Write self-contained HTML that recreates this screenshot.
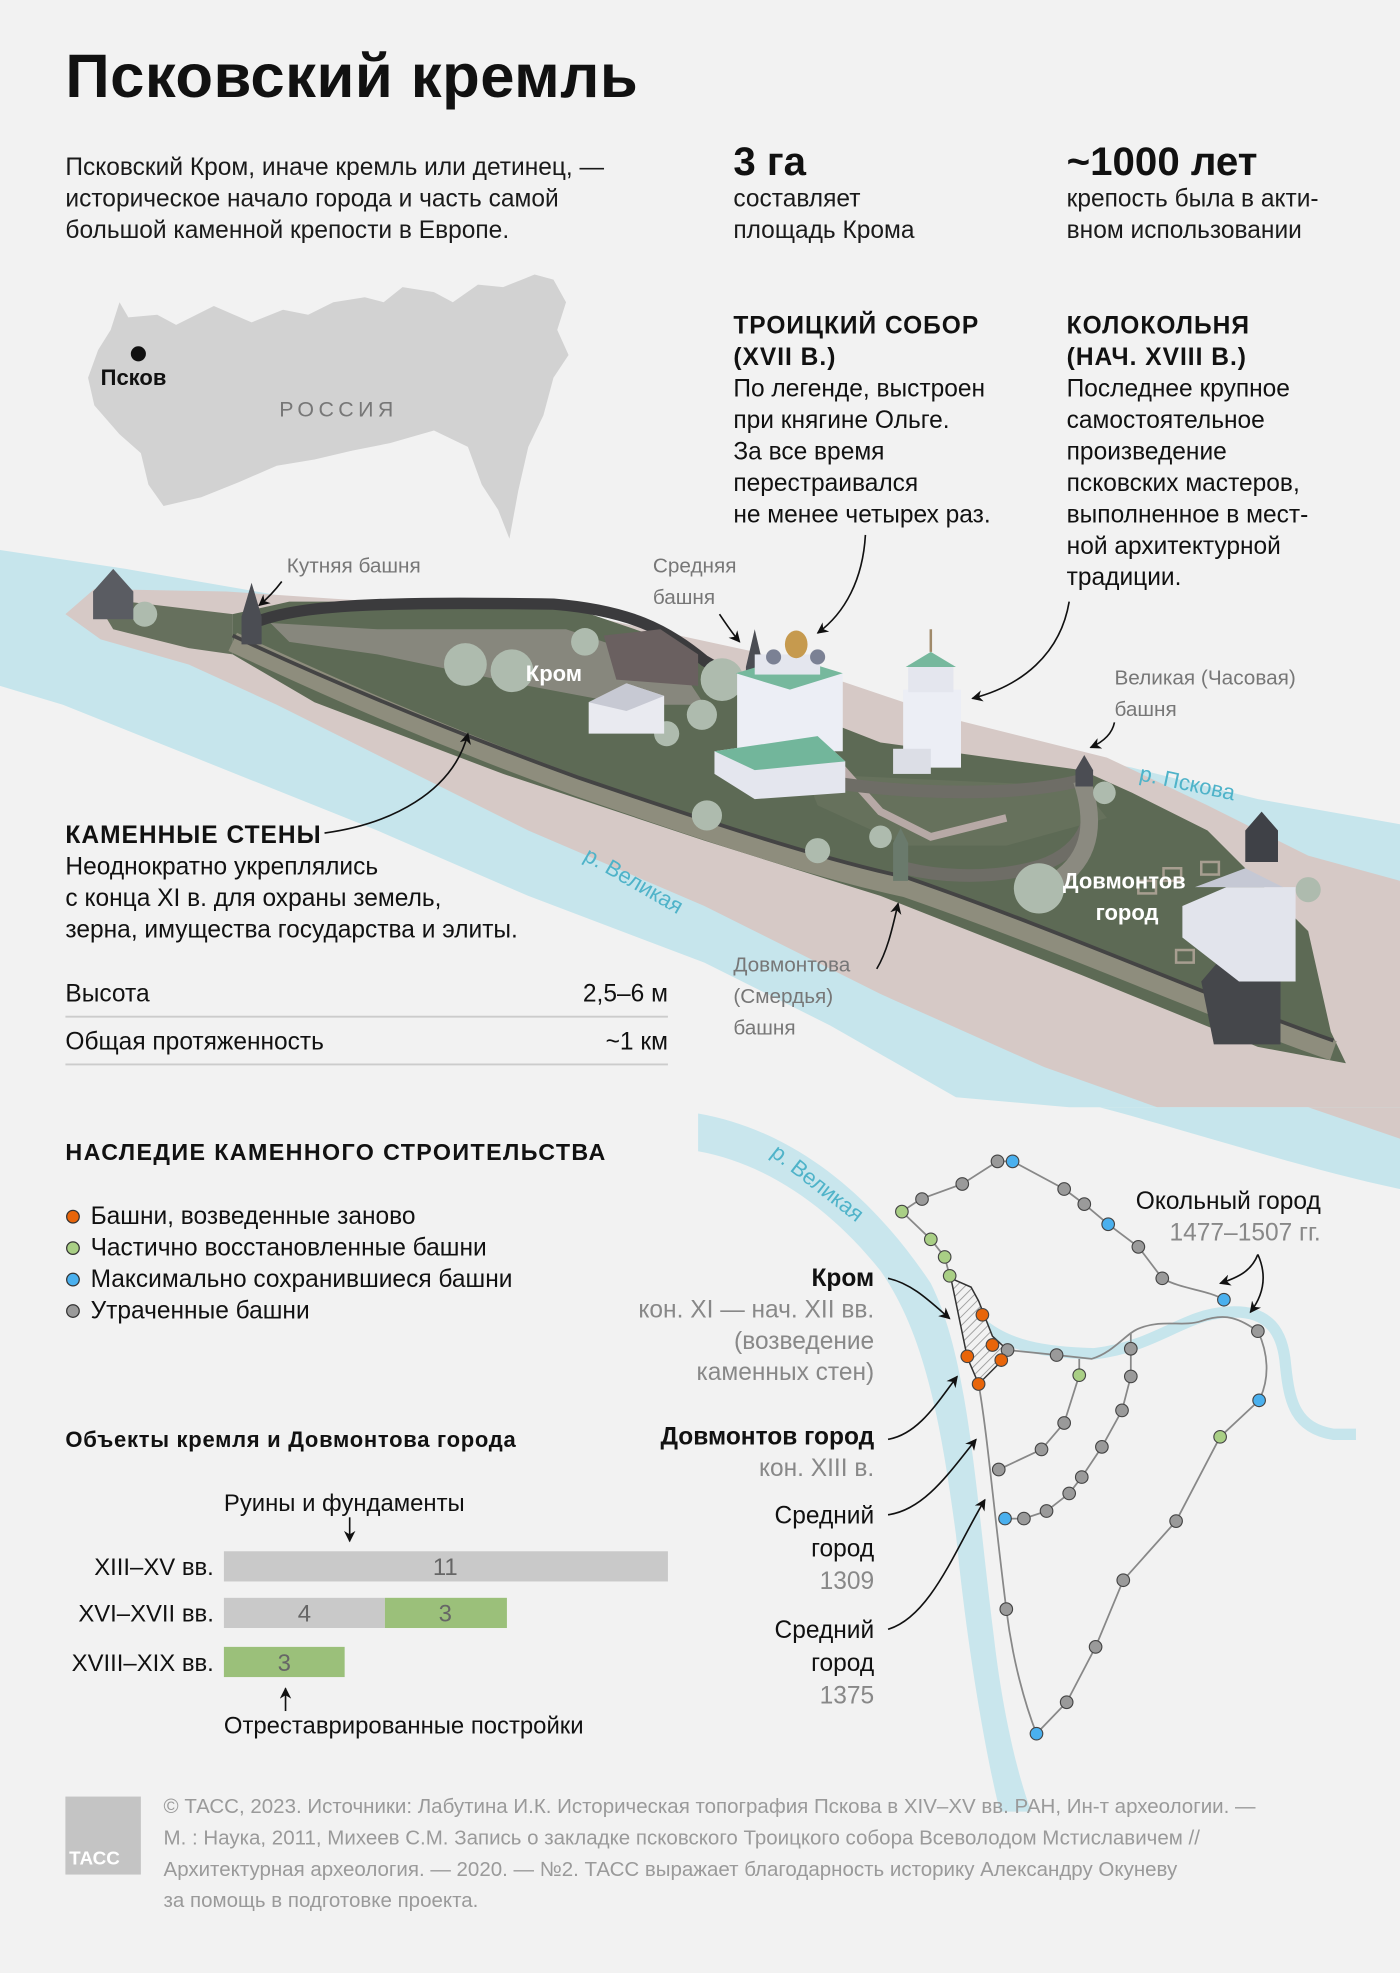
<!DOCTYPE html>
<html><head><meta charset="utf-8"><style>
html,body{margin:0;padding:0;background:#f2f2f2;}
svg{display:block;}
text{font-family:"Liberation Sans","DejaVu Sans",sans-serif;}
.b{font-weight:bold;}
</style></head><body>
<svg width="1400" height="1973" viewBox="0 0 1113 1568" xmlns="http://www.w3.org/2000/svg">
<defs>
<marker id="ah" viewBox="0 0 10 10" refX="9" refY="5" markerWidth="7" markerHeight="7" orient="auto-start-reverse"><path d="M0,0 L10,5 L0,10 L3,5 z" fill="#111"/></marker>
<pattern id="hatch" width="5" height="5" patternUnits="userSpaceOnUse" patternTransform="rotate(45)"><rect width="5" height="5" fill="#f2f2f2"/><line x1="0" y1="0" x2="0" y2="5" stroke="#999" stroke-width="1.4"/></pattern>
</defs>
<rect width="1113" height="1568" fill="#f2f2f2"/>

<!-- Title -->
<text x="52" y="77" font-size="49" class="b" fill="#111" textLength="455">Псковский кремль</text>
<g font-size="19.5" fill="#1a1a1a">
<text x="52" y="139">Псковский Кром, иначе кремль или детинец, —</text>
<text x="52" y="164">историческое начало города и часть самой</text>
<text x="52" y="189">большой каменной крепости в Европе.</text>
<text x="583" y="164">составляет</text>
<text x="583" y="189">площадь Крома</text>
<text x="848" y="164">крепость была в акти-</text>
<text x="848" y="189">вном использовании</text>
</g>
<text x="583" y="139" font-size="32" class="b" fill="#111">3 га</text>
<text x="848" y="139" font-size="32" class="b" fill="#111">~1000 лет</text>

<!-- Russia map -->
<path d="M95,240 L102,252 L125,250 L140,258 L170,243 L200,256 L225,246 L245,250 L265,240 L290,236 L305,240 L320,228 L345,232 L360,240 L380,226 L400,228 L415,222 L425,218 L440,222 L450,240 L443,262 L452,282 L440,300 L432,330 L420,355 L412,390 L405,428 L396,405 L383,385 L372,355 L345,342 L310,352 L280,358 L250,365 L220,370 L190,383 L160,395 L130,402 L118,385 L112,360 L95,345 L75,322 L70,300 L78,278 L88,262 Z" fill="#d2d2d2"/>
<circle cx="110" cy="281" r="6" fill="#111"/>
<text x="80" y="306" font-size="17.5" class="b" fill="#111">Псков</text>
<text x="222" y="331" font-size="17" fill="#777" letter-spacing="3.5">РОССИЯ</text>

<!-- Trinity / belfry text -->
<g font-size="19.5" fill="#111">
<text x="583" y="265" class="b" letter-spacing="0.8">ТРОИЦКИЙ СОБОР</text>
<text x="583" y="290" class="b" letter-spacing="0.8">(XVII В.)</text>
<text x="583" y="315">По легенде, выстроен</text>
<text x="583" y="340">при княгине Ольге.</text>
<text x="583" y="365">За все время</text>
<text x="583" y="390">перестраивался</text>
<text x="583" y="415">не менее четырех раз.</text>
<text x="848" y="265" class="b" letter-spacing="0.8">КОЛОКОЛЬНЯ</text>
<text x="848" y="290" class="b" letter-spacing="0.8">(НАЧ. XVIII В.)</text>
<text x="848" y="315">Последнее крупное</text>
<text x="848" y="340">самостоятельное</text>
<text x="848" y="365">произведение</text>
<text x="848" y="390">псковских мастеров,</text>
<text x="848" y="415">выполненное в мест-</text>
<text x="848" y="440">ной архитектурной</text>
<text x="848" y="465">традиции.</text>
</g>

<!-- Aerial: rivers -->
<path d="M0,437 L100,452 L250,478 L450,505 L600,540 L800,590 L900,610 L1000,635 L1113,655 L1113,880 L850,880 L760,872 L660,815 L560,765 L420,712 L300,660 L150,600 L50,560 L0,545 Z" fill="#c6e5ec"/>
<!-- land -->
<path d="M52,488 L75,468 L180,470 L300,478 L480,492 L600,518 L760,572 L880,602 L960,640 L1040,680 L1113,700 L1113,880 L920,880 L830,848 L700,790 L560,720 L420,660 L300,600 L220,560 L150,528 L80,508 Z" fill="#d6c9c6"/>
<!-- fortress green -->
<path d="M185,488 L230,478 L440,478 L540,512 L585,545 L700,590 L860,612 L900,630 L960,660 L1000,700 L1040,740 L1058,820 L1070,845 L1000,832 L860,775 L700,712 L560,668 L400,615 L250,558 L185,520 Z" fill="#5d6a55"/>
<path d="M75,475 L185,488 L185,520 L150,515 L90,500 Z" fill="#66705d"/>
<!-- courtyard -->
<path d="M215,495 L300,500 L450,500 L540,530 L560,560 L500,560 L420,545 L300,520 L230,510 Z" fill="#9a948f" opacity="0.7"/>
<path d="M640,615 L860,625 L880,650 L800,672 L720,672 L650,640 Z" fill="#66715c"/>
<path d="M660,600 L700,645 L740,665 L800,650" stroke="#b7a9a6" stroke-width="6" fill="none"/>
<!-- walls -->
<path d="M195,498 C230,480 300,478 440,480 C500,485 530,500 560,525 L600,548" stroke="#3b3b3d" stroke-width="9" fill="none"/>
<path d="M185,510 C260,545 350,585 460,625 C560,660 650,690 720,705 C850,750 960,800 1060,835" stroke="#8e8d7d" stroke-width="16" fill="none"/>
<path d="M185,505 C260,540 350,578 460,618 C560,652 650,682 720,697 C850,742 960,792 1060,827" stroke="#444" stroke-width="3" fill="none"/>
<path d="M640,618 C700,630 800,635 860,620 C875,650 860,680 820,690 C780,700 740,695 720,690" stroke="#6e6d66" stroke-width="10" fill="none"/>
<path d="M860,620 C870,650 870,680 840,700" stroke="#8b8a80" stroke-width="14" fill="none"/>
<!-- trees -->
<g fill="#aebbae">
<circle cx="370" cy="528" r="17"/><circle cx="407" cy="533" r="17"/><circle cx="115" cy="488" r="10"/>
<circle cx="574" cy="540" r="17"/><circle cx="558" cy="568" r="12"/><circle cx="530" cy="583" r="10"/>
<circle cx="465" cy="510" r="11"/><circle cx="562" cy="648" r="12"/><circle cx="826" cy="706" r="20"/>
<circle cx="1040" cy="707" r="10"/><circle cx="878" cy="630" r="9"/><circle cx="700" cy="665" r="9"/><circle cx="650" cy="676" r="10"/>
</g>
<!-- towers -->
<path d="M74,470 L90,452 L106,470 L106,492 L74,492 Z" fill="#5a5c62"/>
<path d="M192,490 L200,463 L208,490 L208,512 L192,512 Z" fill="#4b4d53"/>
<path d="M593,530 L600,500 L607,530 L607,548 L593,548 Z" fill="#4b4d53"/>
<path d="M855,612 L862,600 L869,612 L869,625 L855,625 Z" fill="#4b4d53"/>
<path d="M710,670 L716,658 L722,670 L722,700 L710,700 Z" fill="#6a7a6c"/>
<path d="M990,660 L1003,645 L1016,660 L1016,685 L990,685 Z" fill="#3f4147"/>
<path d="M955,780 L985,745 L1018,780 L1018,830 L965,830 Z" fill="#45474b"/>
<!-- buildings -->
<path d="M480,505 L525,500 L555,520 L555,545 L490,540 Z" fill="#6a6060"/>
<path d="M468,558 L498,543 L528,553 L528,583 L468,583 Z" fill="#e9eaf0"/>
<path d="M468,558 L498,543 L528,553 L498,565 Z" fill="#c7c9d3"/>
<rect x="586" y="535" width="84" height="62" fill="#eceef5"/>
<path d="M568,597 L650,585 L672,605 L672,630 L600,635 L568,615 Z" fill="#e4e6ee"/>
<path d="M568,597 L650,585 L672,605 L600,612 Z" fill="#72b69b"/>
<path d="M585,535 L628,522 L670,535 L628,548 Z" fill="#76b89d"/>
<rect x="600" y="520" width="52" height="16" fill="#e4e6ee"/>
<ellipse cx="633" cy="512" rx="9" ry="11" fill="#c69a4e"/>
<circle cx="615" cy="522" r="6" fill="#7b8194"/><circle cx="650" cy="522" r="6" fill="#7b8194"/>
<rect x="718" y="548" width="46" height="62" fill="#eceef5"/>
<rect x="722" y="528" width="36" height="22" fill="#e4e6ee"/>
<path d="M720,530 L740,518 L760,530 Z" fill="#76b89d"/>
<line x1="740" y1="500" x2="740" y2="518" stroke="#a08a6a" stroke-width="2"/>
<rect x="710" y="595" width="30" height="20" fill="#dcdee6"/>
<path d="M940,720 L975,705 L1030,705 L1030,780 L985,780 L940,745 Z" fill="#e2e4ec"/>
<path d="M950,705 L990,690 L1020,705 Z" fill="#c5c8d4"/>
<g fill="none" stroke="#a79e90" stroke-width="2">
<rect x="925" y="690" width="14" height="10"/><rect x="955" y="685" width="14" height="10"/><rect x="935" y="755" width="14" height="10"/><rect x="905" y="700" width="14" height="10"/>
</g>

<!-- aerial labels -->
<g font-size="16.5" fill="#777">
<text x="228" y="455">Кутняя башня</text>
<text x="519" y="455">Средняя</text>
<text x="519" y="480">башня</text>
<text x="886" y="544">Великая (Часовая)</text>
<text x="886" y="569">башня</text>
<text x="583" y="772">Довмонтова</text>
<text x="583" y="797">(Смердья)</text>
<text x="583" y="822">башня</text>
</g>
<text x="418" y="541" font-size="17.5" class="b" fill="#fff">Кром</text>
<text x="845" y="706" font-size="17.5" class="b" fill="#fff">Довмонтов</text>
<text x="871" y="731" font-size="17.5" class="b" fill="#fff">город</text>
<text x="905" y="620" font-size="17.5" fill="#4fb3c9" transform="rotate(12 905 620)">р. Пскова</text>
<text x="463" y="683" font-size="17.5" fill="#4fb3c9" transform="rotate(30 463 683)">р. Великая</text>

<!-- aerial arrows -->
<g fill="none" stroke="#111" stroke-width="1.3" marker-end="url(#ah)">
<path d="M224,462 C218,470 212,476 206,481"/>
<path d="M572,488 C578,497 582,503 588,510"/>
<path d="M688,425 C686,460 672,487 650,503"/>
<path d="M850,478 C843,520 812,545 773,555"/>
<path d="M886,574 C884,584 876,590 867,594"/>
<path d="M697,770 C706,755 710,735 714,718"/>
<path d="M258,662 C310,655 360,630 372,583"/>
</g>

<!-- stone walls text -->
<g font-size="19.5" fill="#111">
<text x="52" y="670" class="b" letter-spacing="0.8">КАМЕННЫЕ СТЕНЫ</text>
<text x="52" y="695">Неоднократно укреплялись</text>
<text x="52" y="720">с конца XI в. для охраны земель,</text>
<text x="52" y="745">зерна, имущества государства и элиты.</text>
<text x="52" y="796">Высота</text>
<text x="531" y="796" text-anchor="end">2,5–6 м</text>
<text x="52" y="834">Общая протяженность</text>
<text x="531" y="834" text-anchor="end">~1 км</text>
</g>
<line x1="52" y1="808" x2="531" y2="808" stroke="#ccc" stroke-width="1.5"/>
<line x1="52" y1="846" x2="531" y2="846" stroke="#ccc" stroke-width="1.5"/>

<!-- Legacy -->
<text x="52" y="922" font-size="18.5" class="b" fill="#111" letter-spacing="1.1">НАСЛЕДИЕ КАМЕННОГО СТРОИТЕЛЬСТВА</text>
<g stroke="#333" stroke-width="1">
<circle cx="58" cy="967" r="5" fill="#e8650a"/>
<circle cx="58" cy="992" r="5" fill="#a9cf85"/>
<circle cx="58" cy="1017" r="5" fill="#4ab0ee"/>
<circle cx="58" cy="1042" r="5" fill="#9a9a9a"/>
</g>
<g font-size="19.5" fill="#111">
<text x="72" y="973">Башни, возведенные заново</text>
<text x="72" y="998">Частично восстановленные башни</text>
<text x="72" y="1023">Максимально сохранившиеся башни</text>
<text x="72" y="1048">Утраченные башни</text>
</g>
<text x="52" y="1150" font-size="17.5" class="b" fill="#111" textLength="358">Объекты кремля и Довмонтова города</text>
<text x="178" y="1201" font-size="19" fill="#111">Руины и фундаменты</text>
<line x1="278" y1="1206" x2="278" y2="1225" stroke="#111" stroke-width="1.3" marker-end="url(#ah)"/>
<rect x="178" y="1233" width="353" height="24" fill="#c9c9c9"/>
<rect x="178" y="1270" width="128" height="24" fill="#c9c9c9"/>
<rect x="306" y="1270" width="97" height="24" fill="#9bc07a"/>
<rect x="178" y="1309" width="96" height="24" fill="#9bc07a"/>
<g font-size="19" fill="#666" text-anchor="middle">
<text x="354" y="1252">11</text><text x="242" y="1289">4</text><text x="354" y="1289">3</text><text x="226" y="1328">3</text>
</g>
<g font-size="19" fill="#111" text-anchor="end">
<text x="170" y="1252">XIII–XV вв.</text><text x="170" y="1289">XVI–XVII вв.</text><text x="170" y="1328">XVIII–XIX вв.</text>
</g>
<line x1="227" y1="1360" x2="227" y2="1342" stroke="#111" stroke-width="1.3" marker-end="url(#ah)"/>
<text x="178" y="1378" font-size="19" fill="#111">Отреставрированные постройки</text>

<!-- Schematic map -->
<path d="M874,880 C950,900 1040,930 1113,945 L1113,880 Z" fill="#c6e5ec"/>
<path d="M1040,880 L1113,880 L1113,905 Z" fill="#d6c9c6"/>
<path d="M555,885 C640,900 700,960 740,1020 C770,1080 775,1180 790,1300 C798,1370 812,1420 820,1440 L795,1440 C785,1400 770,1320 760,1220 C748,1130 735,1060 700,1010 C660,960 610,925 555,915 Z" fill="#c6e5ec" opacity="0.95"/>
<path d="M778,1050 C800,1070 830,1075 870,1076 C920,1070 940,1045 975,1043 C1010,1040 1020,1060 1022,1085 C1025,1115 1030,1135 1060,1140 L1078,1140" stroke="#c6e5ec" stroke-width="9" fill="none"/>
<text x="612" y="918" font-size="17.5" fill="#4fb3c9" transform="rotate(38 612 918)">р. Великая</text>

<path d="M756,1016 L772,1023 L778,1034 L789,1062 L801,1073 L796,1082 L778,1100 L769,1079 Z" fill="url(#hatch)" stroke="#333" stroke-width="1.2"/>
<g fill="none" stroke="#888" stroke-width="1.4">
<path d="M755,1014 L751,999 L740,985 L717,963 L732,953 L765,941 L793,923 L805,923 L846,945 L862,957 L881,973 L905,991 L924,1016 C940,1025 960,1025 973,1033"/>
<path d="M801,1073 L840,1077 L868,1080 C885,1075 895,1060 905,1056 C925,1048 940,1055 955,1050 C975,1043 985,1048 1000,1058 C1008,1075 1010,1095 1001,1113 L970,1142 L935,1209 L893,1256 L871,1309 L848,1353 L824,1378"/>
<path d="M778,1100 C785,1140 790,1200 800,1279 C805,1320 815,1355 824,1378"/>
<path d="M858,1080 L858,1093 L846,1131 L828,1152 L794,1168"/>
<path d="M899,1060 L899,1094 L892,1121 L876,1150 L860,1174 L850,1187 L832,1201 L814,1207 L799,1207"/>
</g>
<g stroke="#444" stroke-width="0.9" fill="#9a9a9a">
<circle cx="733" cy="953" r="5"/><circle cx="765" cy="941" r="5"/><circle cx="793" cy="923" r="5"/>
<circle cx="846" cy="945" r="5"/><circle cx="862" cy="957" r="5"/><circle cx="905" cy="991" r="5"/><circle cx="924" cy="1016" r="5"/>
<circle cx="801" cy="1073" r="5"/><circle cx="840" cy="1077" r="5"/><circle cx="1000" cy="1058" r="5"/>
<circle cx="935" cy="1209" r="5"/><circle cx="893" cy="1256" r="5"/><circle cx="871" cy="1309" r="5"/><circle cx="848" cy="1353" r="5"/>
<circle cx="800" cy="1279" r="5"/><circle cx="846" cy="1131" r="5"/><circle cx="828" cy="1152" r="5"/><circle cx="794" cy="1168" r="5"/>
<circle cx="899" cy="1072" r="5"/><circle cx="899" cy="1094" r="5"/><circle cx="892" cy="1121" r="5"/><circle cx="876" cy="1150" r="5"/>
<circle cx="860" cy="1174" r="5"/><circle cx="850" cy="1187" r="5"/><circle cx="832" cy="1201" r="5"/><circle cx="814" cy="1207" r="5"/>
</g>
<g stroke="#444" stroke-width="0.9" fill="#a9cf85">
<circle cx="717" cy="963" r="5"/><circle cx="740" cy="985" r="5"/><circle cx="751" cy="999" r="5"/><circle cx="755" cy="1014" r="5"/>
<circle cx="858" cy="1093" r="5"/><circle cx="970" cy="1142" r="5"/>
</g>
<g stroke="#444" stroke-width="0.9" fill="#4ab0ee">
<circle cx="805" cy="923" r="5"/><circle cx="881" cy="973" r="5"/><circle cx="973" cy="1033" r="5"/><circle cx="1001" cy="1113" r="5"/>
<circle cx="824" cy="1378" r="5"/><circle cx="799" cy="1207" r="5"/>
</g>
<g stroke="#444" stroke-width="0.9" fill="#e8650a">
<circle cx="781" cy="1045" r="5"/><circle cx="789" cy="1069" r="5"/><circle cx="769" cy="1078" r="5"/><circle cx="796" cy="1081" r="5"/><circle cx="778" cy="1100" r="5"/>
</g>

<g font-size="19.5" text-anchor="end">
<text x="695" y="1022" class="b" fill="#111">Кром</text>
<text x="695" y="1047" fill="#888">кон. XI — нач. XII вв.</text>
<text x="695" y="1072" fill="#888">(возведение</text>
<text x="695" y="1097" fill="#888">каменных стен)</text>
<text x="695" y="1148" class="b" fill="#111">Довмонтов город</text>
<text x="695" y="1173" fill="#888">кон. XIII в.</text>
<text x="695" y="1211" fill="#111">Средний</text>
<text x="695" y="1237" fill="#111">город</text>
<text x="695" y="1263" fill="#888">1309</text>
<text x="695" y="1302" fill="#111">Средний</text>
<text x="695" y="1328" fill="#111">город</text>
<text x="695" y="1354" fill="#888">1375</text>
<text x="1050" y="961" fill="#111">Окольный город</text>
<text x="1050" y="986" fill="#888">1477–1507 гг.</text>
</g>
<g fill="none" stroke="#111" stroke-width="1.3" marker-end="url(#ah)">
<path d="M706,1016 C725,1020 740,1035 755,1048"/>
<path d="M706,1144 C730,1140 745,1115 761,1094"/>
<path d="M706,1204 C735,1200 755,1170 776,1144"/>
<path d="M706,1295 C740,1285 760,1230 783,1192"/>
<path d="M1000,997 C995,1010 985,1015 970,1020"/>
<path d="M1000,997 C1008,1015 1004,1030 994,1043"/>
</g>

<!-- Footer -->
<rect x="52" y="1428" width="60" height="62" fill="#c4c4c4"/>
<text x="55" y="1482" font-size="15" class="b" fill="#fff">ТАСС</text>
<g font-size="16.3" fill="#9a9a9a">
<text x="130" y="1441">© ТАСС, 2023. Источники: Лабутина И.К. Историческая топография Пскова в XIV–XV вв. РАН, Ин-т археологии. —</text>
<text x="130" y="1466">М. : Наука, 2011, Михеев С.М. Запись о закладке псковского Троицкого собора Всеволодом Мстиславичем //</text>
<text x="130" y="1491">Архитектурная археология. — 2020. — №2. ТАСС выражает благодарность историку Александру Окуневу</text>
<text x="130" y="1516">за помощь в подготовке проекта.</text>
</g>
</svg>
</body></html>
